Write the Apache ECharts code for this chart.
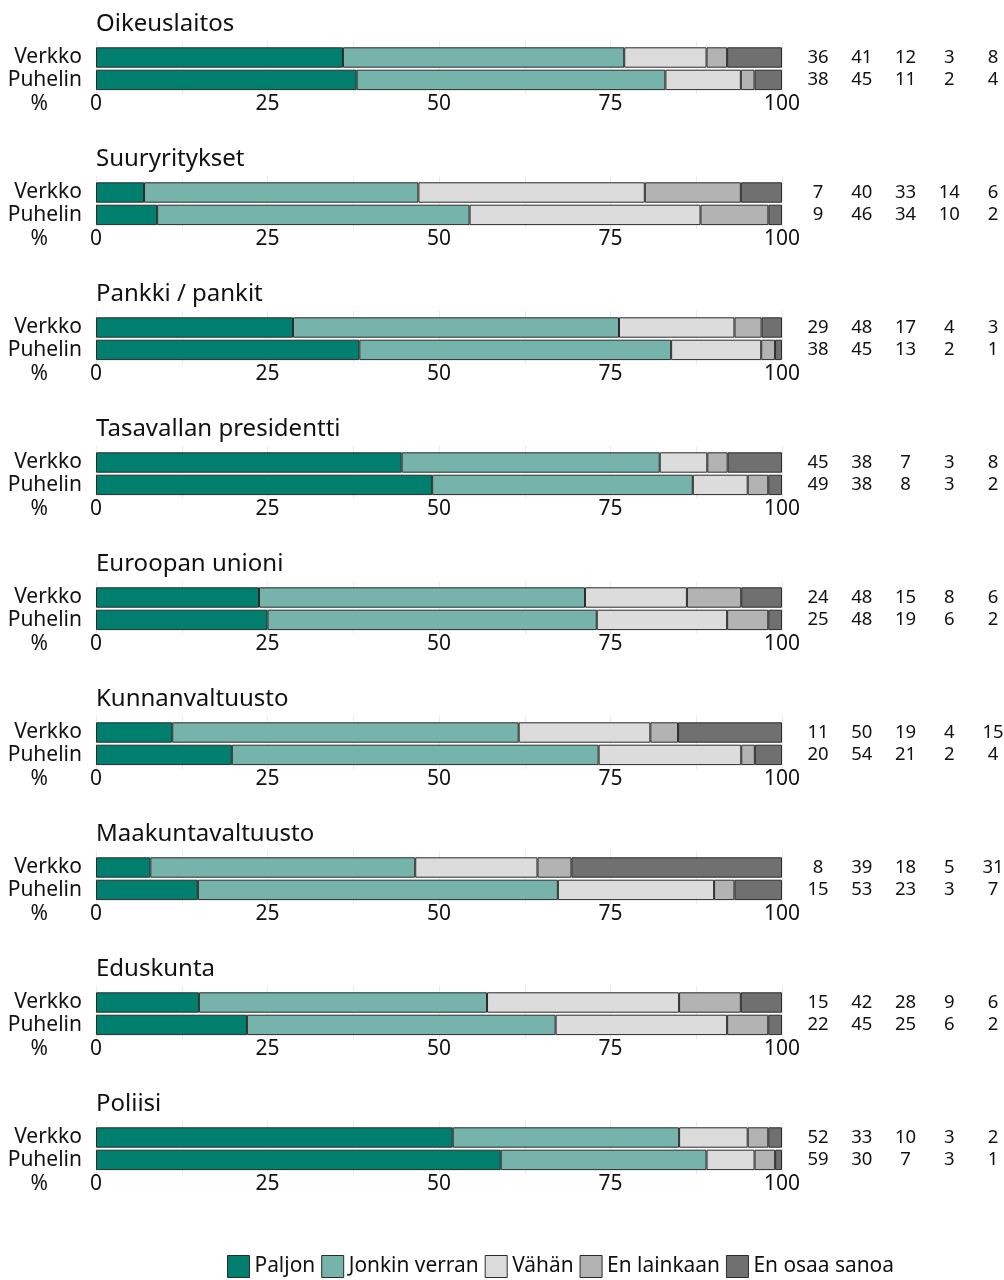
<!DOCTYPE html>
<html>
<head>
<meta charset="utf-8">
<script src="https://cdn.jsdelivr.net/npm/echarts@6/dist/echarts.min.js"></script>
<style>html,body{margin:0;padding:0;background:#fff;}#c{width:1004px;height:1280px;}</style>
</head>
<body>
<div id="c"></div>
<script>
// ---- data ----
const panels = ['Oikeuslaitos','Suuryritykset','Pankki / pankit','Tasavallan presidentti','Euroopan unioni','Kunnanvaltuusto','Maakuntavaltuusto','Eduskunta','Poliisi'];
const rows = ['Verkko','Puhelin'];
const categories = ['Paljon','Jonkin verran','Vähän','En lainkaan','En osaa sanoa'];
const verkko = [
  [36,41,12,3,8],
  [7,40,33,14,6],
  [29,48,17,4,3],
  [45,38,7,3,8],
  [24,48,15,8,6],
  [11,50,19,4,15],
  [8,39,18,5,31],
  [15,42,28,9,6],
  [52,33,10,3,2]
];
const puhelin = [
  [38,45,11,2,4],
  [9,46,34,10,2],
  [38,45,13,2,1],
  [49,38,8,3,2],
  [25,48,19,6,2],
  [20,54,21,2,4],
  [15,53,23,3,7],
  [22,45,25,6,2],
  [59,30,7,3,1]
];
const tickLabels = [0,25,50,75,100];

// ---- styling ----
const colors = ['#007F6E','#76B3AA','#DCDCDC','#B3B3B3','#707070'];
const FONT = 'Noto Sans';
const TXT = '#111111';
const STEP = 135;

const grids = [], xAxes = [], yAxes = [], series = [], titles = [];
panels.forEach((p, i) => {
  const off = STEP * i;
  titles.push({text: p, left: 91, top: 7 + off, textStyle: {fontFamily: FONT, fontSize: 24, fontWeight: 'normal', color: TXT}});
  // background grid (gridlines)
  grids.push({left: 96, width: 686, top: 41 + off, height: 53});
  // main grid
  grids.push({left: 96, width: 686, top: 46.3 + off, height: 44.8});
  // table grid
  grids.push({left: 818, width: 175, top: 46.3 + off, height: 44.8});
  const g0 = 3 * i, g1 = 3 * i + 1, g2 = 3 * i + 2;
  xAxes.push({gridIndex: g0, type: 'value', min: 0, max: 100, interval: 12.5,
    axisLine: {show: false}, axisTick: {show: false}, axisLabel: {show: false},
    splitLine: {show: true, lineStyle: {color: '#ebebeb', width: 1}}});
  xAxes.push({gridIndex: g1, type: 'value', min: 0, max: 100, interval: 25,
    name: '%', nameLocation: 'start', nameGap: 48,
    nameTextStyle: {fontFamily: FONT, fontSize: 21, color: TXT, verticalAlign: 'top', padding: [2, 0, 0, 0]},
    axisLine: {show: false}, axisTick: {show: false}, splitLine: {show: false},
    axisLabel: {margin: 2, fontFamily: FONT, fontSize: 21, color: TXT,
      formatter: v => tickLabels.includes(v) ? String(v) : ''}});
  xAxes.push({gridIndex: g2, type: 'value', min: 0, max: 4, show: false});
  yAxes.push({gridIndex: g0, type: 'category', data: rows, show: false});
  yAxes.push({gridIndex: g1, type: 'category', data: rows, inverse: true,
    axisLine: {show: false}, axisTick: {show: false},
    axisLabel: {interval: 0, margin: 14, fontFamily: FONT, fontSize: 21, color: TXT}});
  yAxes.push({gridIndex: g2, type: 'category', data: rows, inverse: true, show: false});

  const raw = [verkko[i], puhelin[i]];
  const sums = raw.map(r => r.reduce((a, b) => a + b, 0));
  categories.forEach((c, k) => {
    series.push({
      name: c, type: 'bar', stack: 's' + i, xAxisIndex: 3 * i + 1, yAxisIndex: 3 * i + 1,
      barWidth: 20.4,
      itemStyle: {color: colors[k], borderColor: '#2a2a2a', borderWidth: 1},
      data: raw.map((r, j) => r[k] / sums[j] * 100),
      silent: true, animation: false
    });
  });
  const pts = [];
  raw.forEach((r, j) => r.forEach((v, k) => pts.push([k, rows[j], v])));
  series.push({
    name: 'table' + i, type: 'scatter', xAxisIndex: 3 * i + 2, yAxisIndex: 3 * i + 2,
    symbolSize: 1, itemStyle: {color: 'rgba(255,255,255,0)', opacity: 1},
    data: pts, animation: false, silent: true,
    label: {show: true, position: 'inside', formatter: p => String(p.value[2]),
      fontFamily: FONT, fontSize: 18.5, color: TXT, opacity: 1, textBorderWidth: 0}
  });
});

const chart = echarts.init(document.getElementById('c'), null, {renderer: 'canvas'});
chart.setOption({
  backgroundColor: '#fff',
  animation: false,
  title: titles,
  grid: grids,
  xAxis: xAxes,
  yAxis: yAxes,
  legend: {
    data: categories, left: 222, top: 1250, itemWidth: 22, itemHeight: 22, itemGap: 6,
    icon: 'rect', selectedMode: false,
    itemStyle: {borderColor: '#2a2a2a', borderWidth: 1},
    textStyle: {fontFamily: FONT, fontSize: 20.9, color: TXT}
  },
  series: series
});
</script>
</body>
</html>
